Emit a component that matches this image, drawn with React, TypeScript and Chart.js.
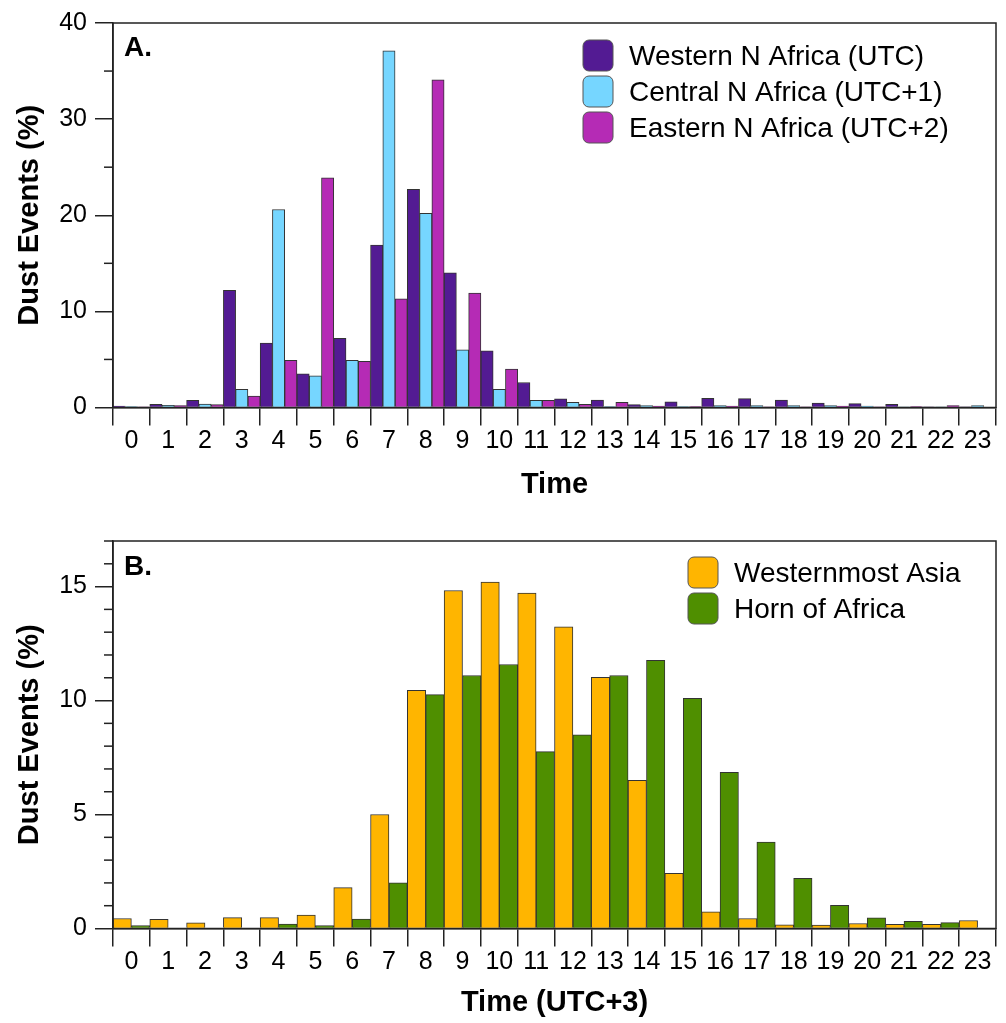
import React, { useEffect, useRef } from "react";
import { Chart, registerables } from "chart.js";

Chart.register(...registerables);

// ---------- data ----------
const hours = ["0","1","2","3","4","5","6","7","8","9","10","11","12","13","14","15","16","17","18","19","20","21","22","23"];

const westernNAfrica = [0.15,0.33,0.74,12.2,6.7,3.5,7.2,16.9,22.7,14.0,5.9,2.6,0.9,0.77,0.3,0.6,0.95,0.93,0.77,0.45,0.4,0.33,0.07,0.05];
const centralNAfrica = [0.1,0.23,0.36,1.9,20.6,3.3,4.9,37.1,20.2,6.0,1.9,0.74,0.55,0.1,0.2,0.1,0.2,0.2,0.2,0.2,0.15,0.07,0.05,0.2];
const easternNAfrica = [0.05,0.2,0.3,1.2,4.9,23.9,4.8,11.3,34.1,11.9,4.0,0.74,0.33,0.55,0.15,0.1,0.15,0.07,0.05,0.15,0.05,0.1,0.2,0];

const westernmostAsia = [0.44,0.4,0.25,0.48,0.48,0.59,1.79,5.0,10.45,14.83,15.2,14.71,13.24,11.02,6.5,2.42,0.73,0.44,0.16,0.15,0.22,0.18,0.18,0.35];
const hornOfAfrica = [0.13,0,0,0,0.19,0.13,0.41,2.0,10.26,11.1,11.58,7.76,8.5,11.1,11.77,10.1,6.85,3.79,2.2,1.02,0.47,0.32,0.26,0];

const labelsA = ["Western N Africa (UTC)", "Central N Africa (UTC+1)", "Eastern N Africa (UTC+2)"];
const labelsB = ["Westernmost Asia", "Horn of Africa"];
const colorsA = ["#531B93", "#76D6FF", "#B52BB5"];
const colorsB = ["#FFB500", "#4F8F00"];

const FONT = "'Liberation Sans', Arial, Helvetica, sans-serif";
const AXIS = "#222";

const decorPlugin = {
  id: "panelDecor",
  afterDatasetsDraw(chart: any, _args: any, opts: any) {
    const { ctx, chartArea } = chart;
    const yScale = chart.scales.y;
    ctx.save();
    // minor y ticks
    ctx.strokeStyle = AXIS;
    ctx.lineWidth = 1.5;
    for (let v = yScale.min; v <= yScale.max + 1e-9; v += opts.minorStep) {
      const r = v / opts.majorStep;
      if (Math.abs(r - Math.round(r)) < 1e-9) continue;
      const y = yScale.getPixelForValue(v);
      ctx.beginPath();
      ctx.moveTo(chartArea.left - 9, y);
      ctx.lineTo(chartArea.left, y);
      ctx.stroke();
    }
    // frame
    ctx.strokeRect(chartArea.left, chartArea.top, chartArea.right - chartArea.left, chartArea.bottom - chartArea.top);
    // panel letter
    ctx.fillStyle = "#000";
    ctx.font = `bold 28px ${FONT}`;
    ctx.textBaseline = "alphabetic";
    ctx.textAlign = "left";
    ctx.fillText(opts.letter, chartArea.left + 11, chartArea.top + opts.letterDy);
    // legend
    chart.data.datasets.forEach((ds: any, i: number) => {
      const x = chartArea.left + opts.legendDx;
      const y = chartArea.top + opts.legendDy + i * 36;
      ctx.beginPath();
      (ctx as any).roundRect(x, y, 30, 31, 6);
      ctx.fillStyle = ds.backgroundColor;
      ctx.fill();
      ctx.strokeStyle = "#555";
      ctx.lineWidth = 1;
      ctx.stroke();
      ctx.fillStyle = "#000";
      ctx.font = `28px ${FONT}`;
      ctx.textBaseline = "middle";
      ctx.fillText(ds.label, x + 46, y + 17);
    });
    ctx.restore();
  },
};

function makeOptions(p: {
  yMax: number; yStep: number; minorStep: number; xTitle: string;
  padTop: number; xHeight: number; xTitlePad: number;
  letter: string; letterDy: number; legendDx: number; legendDy: number;
}) {
  return {
    responsive: false,
    animation: false,
    layout: { padding: { top: p.padTop, right: 10, left: 0, bottom: 0 } },
    plugins: {
      legend: { display: false },
      tooltip: { enabled: false },
      panelDecor: {
        letter: p.letter, letterDy: p.letterDy, legendDx: p.legendDx, legendDy: p.legendDy,
        minorStep: p.minorStep, majorStep: p.yStep,
      },
    },
    datasets: { bar: { categoryPercentage: 1, barPercentage: 1 } },
    scales: {
      x: {
        type: "category",
        offset: true,
        grid: { display: true, offset: true, drawOnChartArea: false, drawTicks: true, tickLength: 18, color: AXIS, lineWidth: 1.5 },
        border: { display: true, color: AXIS, width: 1.5 },
        ticks: { color: "#000", font: { family: FONT, size: 25 }, padding: 1, maxRotation: 0, autoSkip: false },
        title: { display: true, text: p.xTitle, color: "#000", font: { family: FONT, size: 29, weight: "bold" }, padding: { top: 0, bottom: p.xTitlePad } },
        afterFit: (s: any) => { s.height = p.xHeight; },
      },
      y: {
        min: 0,
        max: p.yMax,
        grid: { display: true, drawOnChartArea: false, drawTicks: true, tickLength: 18, color: AXIS, lineWidth: 1.5 },
        border: { display: true, color: AXIS, width: 1.5 },
        ticks: { stepSize: p.yStep, includeBounds: false, color: "#000", font: { family: FONT, size: 25 }, padding: 8 },
        title: { display: true, text: "Dust Events (%)", color: "#000", font: { family: FONT, size: 29, weight: "bold" }, padding: { top: 12.6, bottom: 0 } },
        afterFit: (s: any) => { s.width = 113; },
      },
    },
  };
}

export default function App() {
  const refA = useRef<HTMLCanvasElement>(null);
  const refB = useRef<HTMLCanvasElement>(null);

  useEffect(() => {
    const seriesA = [westernNAfrica, centralNAfrica, easternNAfrica];
    const chartA = new Chart(refA.current as HTMLCanvasElement, {
      type: "bar",
      data: {
        labels: hours,
        datasets: seriesA.map((d, i) => ({
          label: labelsA[i],
          data: d,
          backgroundColor: colorsA[i],
          borderColor: "#333",
          borderWidth: 1,
        })),
      },
      options: makeOptions({
        yMax: 40, yStep: 10, minorStep: 5, xTitle: "Time",
        padTop: 20, xHeight: 102.5, xTitlePad: 7.6,
        letter: "A.", letterDy: 33, legendDx: 470, legendDy: 17,
      }) as any,
      plugins: [decorPlugin],
    });

    const seriesB = [westernmostAsia, hornOfAfrica];
    const chartB = new Chart(refB.current as HTMLCanvasElement, {
      type: "bar",
      data: {
        labels: hours,
        datasets: seriesB.map((d, i) => ({
          label: labelsB[i],
          data: d,
          backgroundColor: colorsB[i],
          borderColor: "#333",
          borderWidth: 1,
        })),
      },
      options: makeOptions({
        yMax: 17, yStep: 5, minorStep: 1, xTitle: "Time (UTC+3)",
        padTop: 31, xHeight: 94.5, xTitlePad: 2.6,
        letter: "B.", letterDy: 34, legendDx: 575, legendDy: 16,
      }) as any,
      plugins: [decorPlugin],
    });

    return () => {
      chartA.destroy();
      chartB.destroy();
    };
  }, []);

  return (
    <div style={{ position: "absolute", left: 0, top: 0, width: 1006, height: 1023, background: "#fff" }}>
      <canvas ref={refA} width={1006} height={510} style={{ position: "absolute", left: 0, top: 0, display: "block" }} />
      <canvas ref={refB} width={1006} height={513} style={{ position: "absolute", left: 0, top: 510, display: "block" }} />
    </div>
  );
}
